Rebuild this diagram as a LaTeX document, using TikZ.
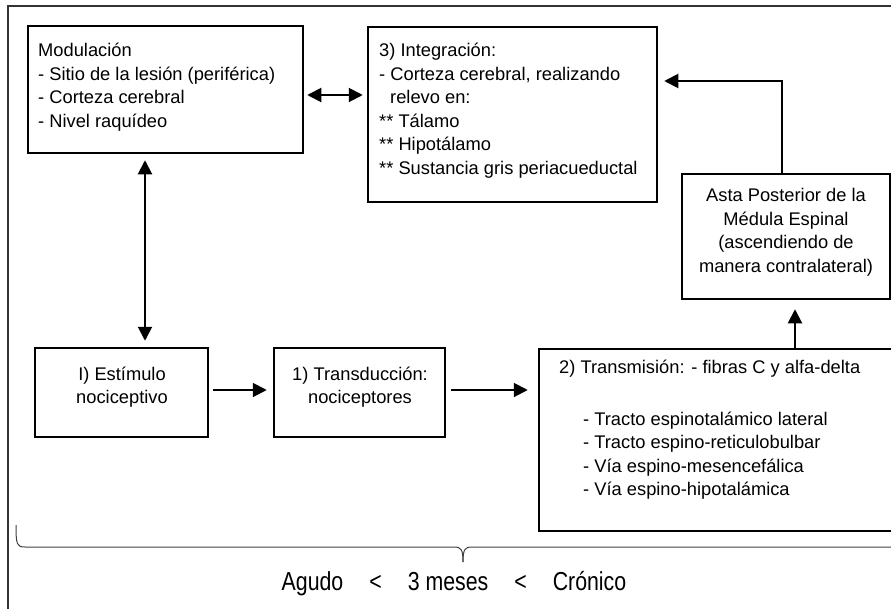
\documentclass[tikz,border=0pt]{standalone}
\usepackage{fontspec}
\setmainfont{Liberation Sans}
\newfontfamily\narrowfont[FakeStretch=0.82]{Liberation Sans}
\usetikzlibrary{arrows.meta}
\begin{document}
\begin{tikzpicture}[x=1pt,y=-1pt,
  box/.style={draw,line width=2.5pt,inner sep=0pt},
  txt/.style={align=left,inner sep=0pt,anchor=north west,font=\fontsize{18.3}{23.5}\selectfont},
  ctxt/.style={align=center,inner sep=0pt,anchor=north,font=\fontsize{18.3}{23.5}\selectfont},
  tip/.style={line width=2pt},
  arr/.style={tip,-{Triangle[length=14pt,width=14pt]}},
  dbl/.style={tip,{Triangle[length=14pt,width=14pt]}-{Triangle[length=14pt,width=14pt]}}]
\useasboundingbox (0,0) rectangle (891,608);
\clip (0,0) rectangle (891,608);
\draw[line width=2pt,draw=black!80] (8,6) rectangle (920,640);
% boxes
\node[box,minimum width=275pt,minimum height=127pt] (mod) at (165.5,89.5) {};
\node[box,minimum width=289pt,minimum height=175pt] (integ) at (512.5,114.5) {};
\node[box,minimum width=208pt,minimum height=125pt] (asta) at (786,236.5) {};
\node[box,minimum width=173pt,minimum height=89pt] (est) at (121.5,392.5) {};
\node[box,minimum width=171pt,minimum height=89pt] (trd) at (359.5,392.5) {};
\node[box,minimum width=381pt,minimum height=182pt] (trm) at (729.5,440) {};
% texts
\node[txt] (modt) at (38,43) {Modulación\\- Sitio de la lesión (periférica)\\- Corteza cerebral\\- Nivel raquídeo};
\node[txt] (integt) at (379,43) {3) Integración:\\- Corteza cerebral, realizando\\\hspace*{11pt}relevo en:\\** Tálamo\\** Hipotálamo\\** Sustancia gris periacueductal};
\node[ctxt] (astat) at (786,188.5) {Asta Posterior de la\\Médula Espinal\\(ascendiendo de\\manera contralateral)};
\node[ctxt] (estt) at (122,366.5) {I) Estímulo\\nociceptivo};
\node[ctxt] (trdt) at (360,366.5) {1) Transducción:\\nociceptores};
\node[txt] (trmt) at (559,359.5) {2) Transmisión: - fibras C y alfa-delta};
\node[txt] (trml) at (583,411.5) {- Tracto espinotalámico lateral\\- Tracto espino-reticulobulbar\\- Vía espino-mesencefálica\\- Vía espino-hipotalámica};
% connectors
\draw[dbl,shorten <=3pt,shorten >=4pt] (mod.east |- 0,95) -- (integ.west |- 0,95);
\draw[dbl,shorten <=6pt,shorten >=6pt] (145,0 |- mod.south) -- (145,0 |- est.north);
\draw[arr,shorten <=4pt,shorten >=6pt] (est.east |- 0,390) -- (trd.west |- 0,390);
\draw[arr,shorten <=5pt,shorten >=10pt] (trd.east |- 0,390) -- (trm.west |- 0,390);
\draw[arr,shorten >=9pt] (795,0 |- trm.north) -- (795,0 |- asta.south);
\draw[arr,shorten >=6pt] (782,0 |- asta.north) |- (integ.east |- 0,81);
% brace
\coordinate (bl) at (16,525);
\coordinate (bm) at (463,562);
\coordinate (br) at (900,547);
\draw[line width=1pt,draw=black!75] (bl) .. controls (16,545) and (17,547) .. (25,547) -- (454,547) .. controls (461,547) and (463,549) .. (bm);
\draw[line width=1pt,draw=black!75] (bm) .. controls (463,549) and (465,547) .. (472,547) -- (br);
\node[font=\narrowfont\fontsize{26}{26}\selectfont,anchor=base,inner sep=0pt] (scale) at (454,590) {Agudo\hspace{26pt}<\hspace{26pt}3 meses\hspace{26pt}<\hspace{26pt}Crónico};
\end{tikzpicture}
\end{document}
